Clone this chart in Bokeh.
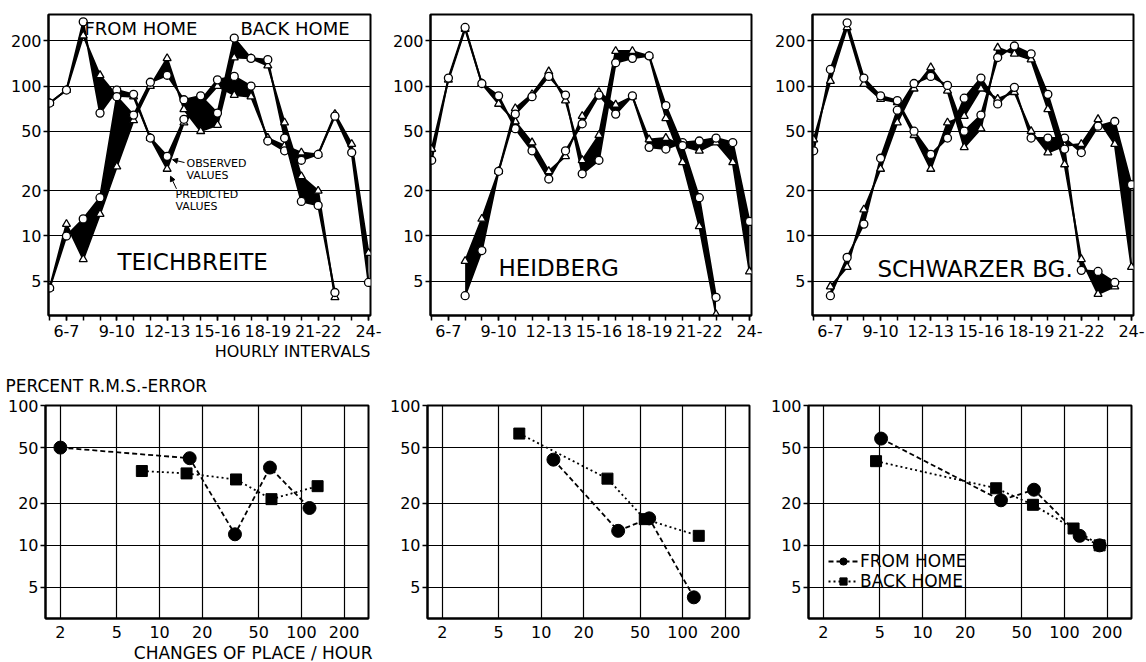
import math
from bokeh.plotting import figure
from bokeh.models import Range1d, FixedTicker, Label, Arrow, NormalHead, Legend, LegendItem, Title
from bokeh.layouts import row, column
from bokeh.embed import file_html
from bokeh.resources import INLINE

FONT = "DejaVu Sans"
nan = float("nan")

# ---------------- data ----------------
hours = list(range(5, 25))
hour_tick_values = [6, 9, 12, 15, 18, 21, 24]
hour_tick_labels = ["6-7", "9-10", "12-13", "15-16", "18-19", "21-22", "24-"]
level_ticks = [5, 10, 20, 50, 100, 200]

# Teichbreite
T_from_obs  = [77, 94, 268, 66, 94, 88, 45, 34, 60, 80, 110, 116, 100, 43, 37, 32, 35, 63, 36, 4.9]
T_from_pred = [77, 94, 217, 118, 86, 85, 45, 28, 57, 75, 100, 87, 85, 45, 40, 36, 35, 65, 41, 7.7]
T_back_obs  = [4.5, 10, 13, 18, 85, 64, 106, 118, 81, 86, 66, 209, 153, 150, 45, 17, 16, 4.2, nan, nan]
T_back_pred = [4.5, 12, 7, 14, 29, 59, 100, 153, 70, 50, 55, 155, 153, 137, 57, 25, 20, 3.9, nan, nan]

# Heidberg
H_from_obs  = [32, 113, 246, 104, 86, 52, 37, 24, 37, 56, 87, 65, 86, 39, 38, 42, 43, 45, 42, 12.5]
H_from_pred = [38, 110, 240, 104, 76, 58, 42, 27, 34, 63, 91, 75, 85, 44, 45, 40, 37, 42, 31, 5.8]
H_back_obs  = [nan, nan, 4.0, 8, 27, 65, 85, 116, 87, 26, 32, 143, 153, 159, 74, 40, 18, 3.9, nan, nan]
H_back_pred = [nan, nan, 6.8, 13, 27, 71, 88, 125, 80, 32, 47, 171, 171, 159, 61, 31, 11.6, 3.0, nan, nan]

# Schwarzer Bg.
S_from_obs  = [37, 129, 264, 113, 86, 80, 50, 35, 45, 83, 113, 76, 98, 45, 45, 45, 36, 54, 58, 22]
S_from_pred = [44, 108, 246, 103, 82, 78, 47, 28, 57, 63, 96, 82, 91, 50, 36, 40, 41, 60, 41, 6.2]
S_back_obs  = [nan, 4.0, 7.2, 12, 33, 69, 104, 116, 101, 50, 64, 155, 185, 164, 88, 38, 5.9, 5.8, 4.9, nan]
S_back_pred = [nan, 4.6, 6.2, 15, 28, 57, 96, 133, 93, 39, 52, 180, 164, 150, 70, 30, 7.0, 4.1, 4.6, nan]

# R.M.S. error vs changes of place / hour
err_ticks_x = [2, 5, 10, 20, 50, 100, 200]
err_ticks_y = [5, 10, 20, 50, 100]

T_err_from_x = [2, 16.3, 34, 60, 114]
T_err_from_y = [50, 42, 12, 36, 18.5]
T_err_back_x = [7.5, 15.5, 34.6, 61.5, 130]
T_err_back_y = [34, 32.7, 29.6, 21.4, 26.5]

H_err_from_x = [12.2, 35, 58, 120]
H_err_from_y = [41, 12.7, 15.6, 4.25]
H_err_back_x = [7.0, 29.4, 54, 130]
H_err_back_y = [63, 30, 15.4, 11.7]

S_err_from_x = [5.1, 35.7, 61, 128, 177]
S_err_from_y = [58, 21, 25, 11.7, 10]
S_err_back_x = [4.7, 33, 60, 116, 177]
S_err_back_y = [40, 25.6, 19.5, 13.2, 10]

# ---------------- helpers ----------------
FIG_W = 382
TOP_H = 365
BOT_H = 297


def make_fig(origin, frame, h, xr, yr, xlog, ylog):
    ox, oy = origin
    left, right, top, bottom = frame
    p = figure(width=FIG_W, height=h,
               x_range=Range1d(*xr), y_range=Range1d(*yr),
               x_axis_type="log" if xlog else "linear",
               y_axis_type="log" if ylog else "linear",
               output_backend="svg", toolbar_location=None,
               min_border_left=left - ox, min_border_right=ox + FIG_W - right,
               min_border_top=top - oy, min_border_bottom=oy + h - bottom)
    p.outline_line_color = "black"
    p.outline_line_width = 2
    p.outline_line_alpha = 1
    for ax in (p.xaxis[0], p.yaxis[0]):
        ax.axis_line_color = "black"
        ax.axis_line_width = 2
        ax.major_tick_line_color = "black"
        ax.major_tick_line_width = 1.5
        ax.minor_tick_line_color = "black"
        ax.minor_tick_line_width = 1.5
        ax.major_tick_in = 0
        ax.minor_tick_in = 0
        ax.major_label_text_font = FONT
        ax.major_label_text_font_size = "16px"
        ax.major_label_text_color = "black"
    p._geom = (frame, xr, yr, xlog, ylog)
    return p


def to_data(p, px, py):
    (left, right, top, bottom), xr, yr, xlog, ylog = p._geom
    fx = (px - left) / (right - left)
    fy = (bottom - py) / (bottom - top)
    if xlog:
        x = 10 ** (math.log10(xr[0]) + fx * (math.log10(xr[1]) - math.log10(xr[0])))
    else:
        x = xr[0] + fx * (xr[1] - xr[0])
    if ylog:
        y = 10 ** (math.log10(yr[0]) + fy * (math.log10(yr[1]) - math.log10(yr[0])))
    else:
        y = yr[0] + fy * (yr[1] - yr[0])
    return x, y


def add_label(p, px, py, text, size, align="left"):
    x, y = to_data(p, px, py)
    p.add_layout(Label(x=x, y=y, text=text, text_font=FONT, text_font_size=size,
                       text_color="black", text_align=align, text_baseline="middle"))


def add_title(p, text, side, align, size, offset=0, standoff=0, valign="bottom"):
    p.add_layout(Title(text=text, align=align, offset=offset, standoff=standoff,
                       vertical_align=valign,
                       text_font=FONT, text_font_size=size, text_font_style="normal",
                       text_color="black"), side)


def top_panel(origin, frame, series):
    p = make_fig(origin, frame, TOP_H, (4.93, 24.12), (2.95, 300), False, True)
    p.xaxis.ticker = FixedTicker(ticks=hour_tick_values, minor_ticks=hours)
    p.xaxis.major_label_overrides = dict(zip(hour_tick_values, hour_tick_labels))
    p.xaxis.major_tick_out = 5
    p.xaxis.minor_tick_out = 5
    p.xaxis.major_label_standoff = 4
    p.yaxis.ticker = FixedTicker(ticks=level_ticks, minor_ticks=[])
    p.yaxis.major_label_overrides = {v: str(v) for v in level_ticks}
    p.yaxis.major_tick_out = 5
    p.yaxis.major_label_standoff = 2
    p.ygrid.ticker = FixedTicker(ticks=level_ticks)
    p.ygrid.grid_line_color = "black"
    p.ygrid.grid_line_width = 1.2
    p.xgrid.visible = False
    for obs, pred in series:
        keep = [i for i in range(len(hours)) if not (math.isnan(obs[i]) or math.isnan(pred[i]))]
        xs = [hours[i] for i in keep]
        o = [obs[i] for i in keep]
        q = [pred[i] for i in keep]
        p.varea(x=xs, y1=o, y2=q, fill_color="black")
        p.line(xs, o, line_color="black", line_width=2)
        p.line(xs, q, line_color="black", line_width=2)
        p.scatter(xs, q, marker="triangle", size=8, fill_color="white",
                  line_color="black", line_width=1.3)
        p.scatter(xs, o, marker="circle", size=8, fill_color="white",
                  line_color="black", line_width=1.3)
    return p


def err_panel(origin, frame, fx, fy, bx, by):
    p = make_fig(origin, frame, BOT_H, (1.57, 297), (3.0, 100), True, True)
    p.xaxis.ticker = FixedTicker(ticks=err_ticks_x, minor_ticks=[])
    p.xaxis.major_label_overrides = {v: str(v) for v in err_ticks_x}
    p.xaxis.major_tick_out = 0
    p.xaxis.major_label_standoff = 7
    p.yaxis.ticker = FixedTicker(ticks=err_ticks_y, minor_ticks=[])
    p.yaxis.major_label_overrides = {v: str(v) for v in err_ticks_y}
    p.yaxis.major_tick_out = 5
    p.yaxis.major_label_standoff = 2
    p.xgrid.ticker = FixedTicker(ticks=err_ticks_x)
    p.ygrid.ticker = FixedTicker(ticks=err_ticks_y)
    for g in (p.xgrid, p.ygrid):
        g.grid_line_color = "black"
        g.grid_line_width = 1.2
    lf = p.line(fx, fy, line_color="black", line_width=1.8, line_dash="5 3")
    sf = p.scatter(fx, fy, marker="circle", size=13, fill_color="black", line_color="black")
    lb = p.line(bx, by, line_color="black", line_width=1.8, line_dash="2 3")
    sb = p.scatter(bx, by, marker="square", size=11, fill_color="black", line_color="black")
    return p, (lf, sf, lb, sb)


# ---------------- top row ----------------
p1 = top_panel((0, 0), (48, 370, 8, 317), [(T_from_obs, T_from_pred), (T_back_obs, T_back_pred)])
p2 = top_panel((382, 0), (430, 751, 10, 315), [(H_from_obs, H_from_pred), (H_back_obs, H_back_pred)])
p3 = top_panel((764, 0), (812, 1133, 14, 323), [(S_from_obs, S_from_pred), (S_back_obs, S_back_pred)])

add_label(p1, 84, 22, "FROM HOME", "18px")
add_label(p1, 240, 22, "BACK HOME", "18px")
add_label(p1, 117, 262, "TEICHBREITE", "23px")
add_label(p1, 186, 161, "OBSERVED", "11px")
add_label(p1, 186, 173, "VALUES", "11px")
add_label(p1, 175, 193, "PREDICTED", "11px")
add_label(p1, 175, 205, "VALUES", "11px")
add_title(p1, "HOURLY INTERVALS", "below", "right", "16px", offset=0, standoff=0)
ax0, ay0 = to_data(p1, 184, 160)
ax1, ay1 = to_data(p1, 172, 157)
p1.add_layout(Arrow(end=NormalHead(size=5, fill_color="black", line_color="black"),
                    x_start=ax0, y_start=ay0, x_end=ax1, y_end=ay1, line_width=1))
bx0, by0 = to_data(p1, 176, 187)
bx1, by1 = to_data(p1, 170, 174)
p1.add_layout(Arrow(end=NormalHead(size=5, fill_color="black", line_color="black"),
                    x_start=bx0, y_start=by0, x_end=bx1, y_end=by1, line_width=1))

add_label(p2, 498, 267, "HEIDBERG", "23px")
add_label(p3, 877, 275, "SCHWARZER BG.", "23px")

# ---------------- bottom row ----------------
p4, _ = err_panel((0, 365), (45, 368, 403, 619), T_err_from_x, T_err_from_y, T_err_back_x, T_err_back_y)
p5, _ = err_panel((382, 365), (427, 749, 403, 623), H_err_from_x, H_err_from_y, H_err_back_x, H_err_back_y)
p6, r6 = err_panel((764, 365), (808, 1131, 405, 626), S_err_from_x, S_err_from_y, S_err_back_x, S_err_back_y)

add_title(p4, "PERCENT R.M.S.-ERROR", "above", "left", "17px", offset=-40, standoff=15, valign="top")
add_title(p4, "CHANGES OF PLACE / HOUR", "below", "right", "17px", offset=-4, standoff=0)

legend = Legend(items=[LegendItem(label="FROM HOME", renderers=[r6[0], r6[1]]),
                       LegendItem(label="BACK HOME", renderers=[r6[2], r6[3]])],
                location=(20, 27), background_fill_alpha=0, border_line_alpha=0,
                label_text_font=FONT, label_text_font_size="17px", label_text_color="black",
                glyph_width=30, glyph_height=18, spacing=0, padding=0, margin=0,
                label_standoff=2, label_height=18)
p6.add_layout(legend)

layout = column(row(p1, p2, p3), row(p4, p5, p6))
open("out.html", "w").write(file_html(layout, INLINE))
